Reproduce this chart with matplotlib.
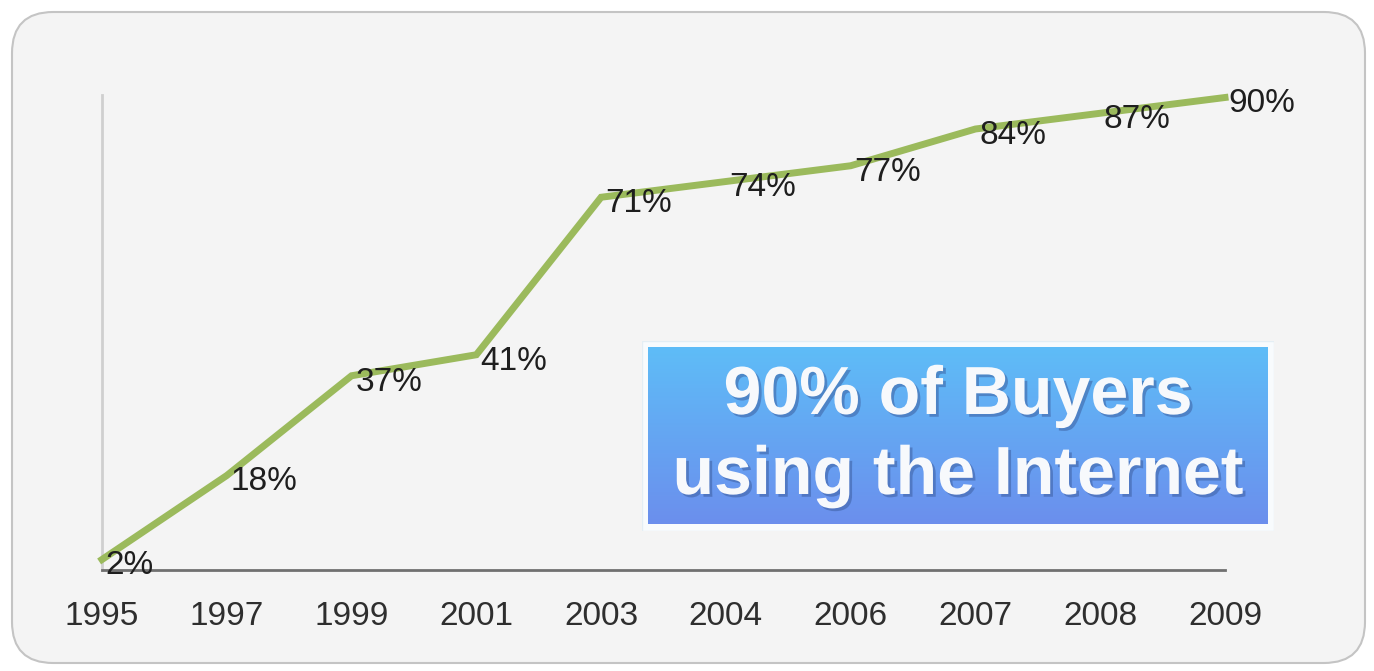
import numpy as np
import matplotlib
matplotlib.use("Agg")
import matplotlib.pyplot as plt
from matplotlib.patches import FancyBboxPatch, Rectangle
import matplotlib.patheffects as pe

years = ["1995", "1997", "1999", "2001", "2003", "2004", "2006", "2007", "2008", "2009"]
share = [2, 18, 37, 41, 71, 74, 77, 84, 87, 90]
labels = ["2%", "18%", "37%", "41%", "71%", "74%", "77%", "84%", "87%", "90%"]
callout = "90% of Buyers\nusing the Internet"

W, H = 1374, 671
fig = plt.figure(figsize=(W / 100, H / 100), dpi=100)
fig.patch.set_facecolor("white")

# rounded panel background
bg = FancyBboxPatch((12 / W, 8 / H), (1353 / W), (651 / H),
                    boxstyle="round,pad=0,rounding_size=0.03",
                    transform=fig.transFigure, facecolor="#F4F4F4",
                    edgecolor="#C4C4C4", linewidth=1.5, mutation_aspect=W / H,
                    zorder=-10)
fig.add_artist(bg)

ax = fig.add_axes([102 / W, (H - 570) / H, (1225 - 102) / W, (570 - 45) / H])
ax.set_zorder(1)
ax.set_facecolor("none")
x = np.arange(len(years))
ax.plot(x, share, color="#9BBA5C", lw=5, solid_joinstyle="miter", clip_on=False, zorder=3)
for xi, yi, lab in zip(x, share, labels):
    ax.text(xi + 0.03, yi - 1.2, lab, ha="left", va="center", fontsize=24,
            family="Liberation Sans", color="#1E1E1E", zorder=4, clip_on=False)

ax.set_xlim(0, 9)
ax.set_ylim(0, 100)
ax.set_xticks(x)
ax.set_xticklabels(years, fontsize=24, family="Liberation Sans", color="#2E2E2E")
ax.set_yticks([])
ax.tick_params(axis="x", length=0, pad=22)
for s in ["top", "right"]:
    ax.spines[s].set_visible(False)
ax.spines["bottom"].set_color("#707070")
ax.spines["bottom"].set_linewidth(2)
ax.spines["left"].set_color("#CFCFCF")
ax.spines["left"].set_linewidth(2)
ax.spines["left"].set_bounds(0, 90.5)

# callout box
bx = fig.add_axes([642 / W, (H - 531) / H, 632 / W, 190 / H])
bx.set_zorder(2)
bx.set_xlim(0, 1)
bx.set_ylim(0, 1)
bx.axis("off")
bx.add_patch(Rectangle((0, 0), 1, 1, facecolor="#F8FBFD", edgecolor="#E4EEF4", lw=1, transform=bx.transAxes))
top = np.array([0.37, 0.74, 0.97])
bot = np.array([0.42, 0.56, 0.93])
t = np.linspace(0, 1, 256)[:, None]
grad = (top[None, :] * (1 - t) + bot[None, :] * t)[:, None, :]
bx.imshow(grad, extent=[0.01, 0.99, 0.035, 0.965], aspect="auto", origin="upper", zorder=2)
bx.set_xlim(0, 1)
bx.set_ylim(0, 1)
bx.text(0.5, 0.5, callout, ha="center", va="center", fontsize=49, fontweight="bold",
        family="Liberation Sans", color="#F7F9FC", linespacing=1.32, zorder=3,
        path_effects=[pe.withSimplePatchShadow(offset=(2, -2), shadow_rgbFace="#3A5A9A", alpha=0.5)])

fig.savefig("out.png", dpi=100)
